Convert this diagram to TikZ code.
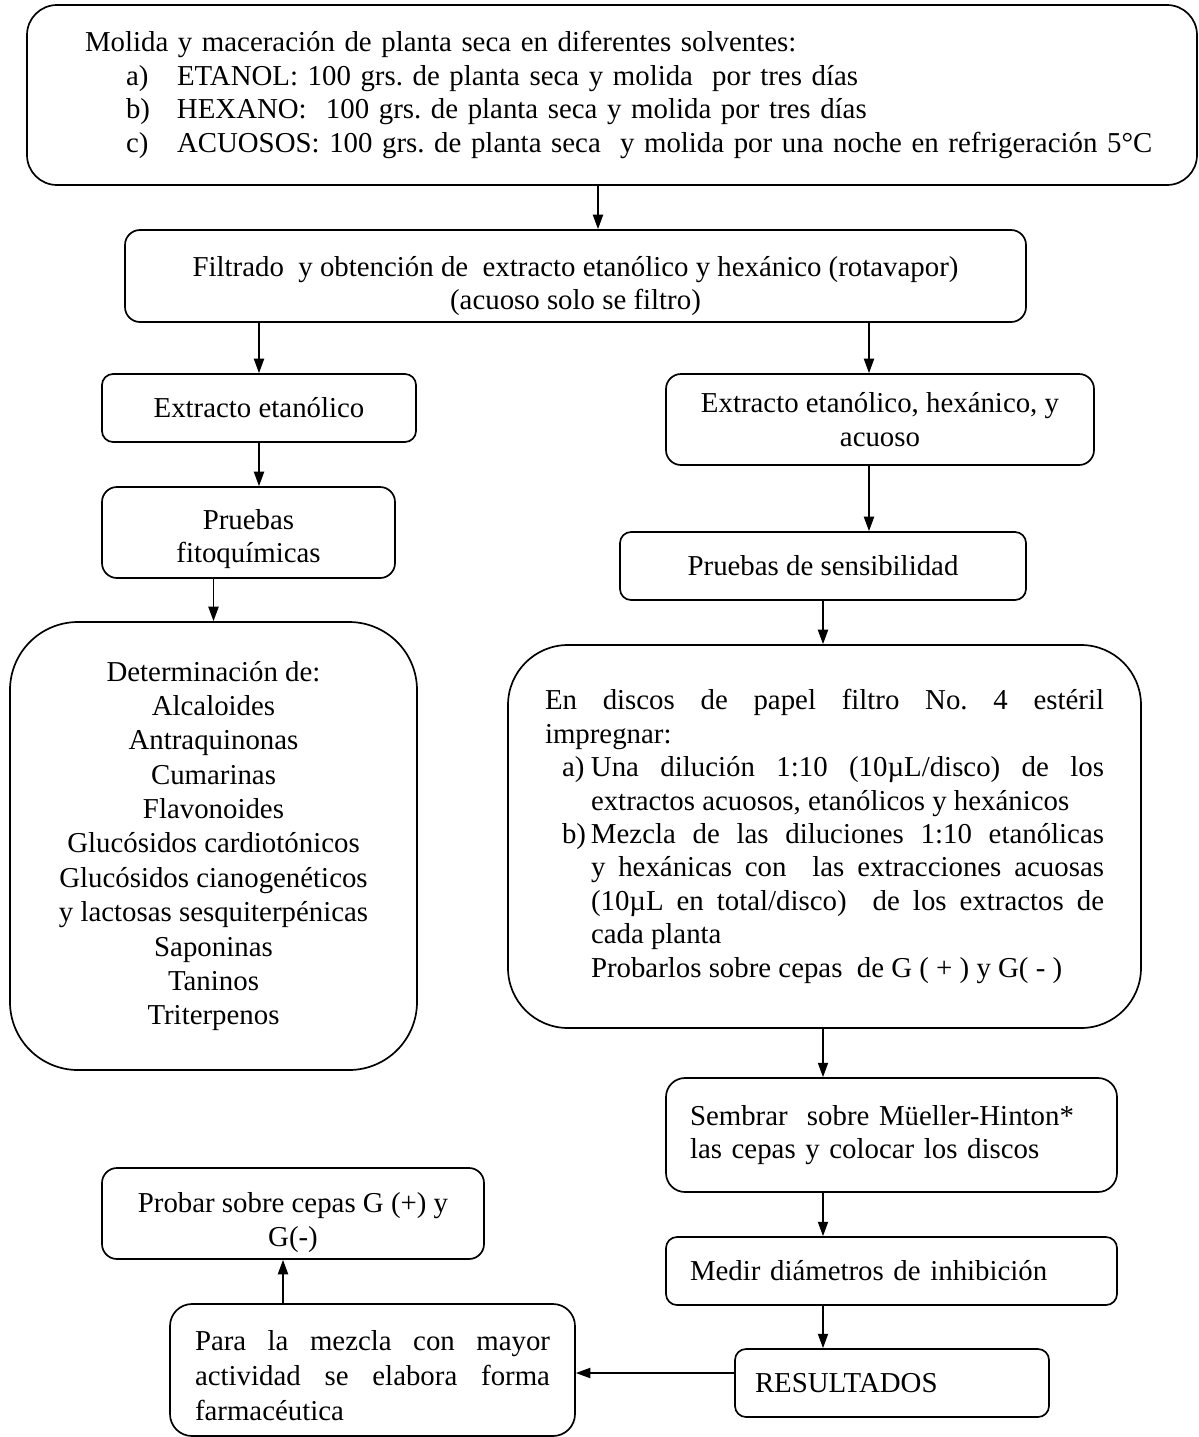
\documentclass[tikz,border=0pt]{standalone}
\usepackage{fontspec}
\setmainfont{Liberation Serif}
\usetikzlibrary{positioning}
\usetikzlibrary{arrows.meta,calc}
\newlength\px
\setlength\px{0.416pt}
\tolerance=9000
\hyphenpenalty=10000
\frenchspacing

\begin{document}
\begin{tikzpicture}[
    x=\px, y=-\px,
    every node/.style={
        inner sep=0pt,
        font=\fontsize{12}{13.9}\selectfont,
    },
    procbox/.style n args={3}{
        draw,rectangle,
        line width=0.7pt,
        rounded corners=#3\px,
        minimum width=#1\px,
        minimum height=#2\px,
    },
    link/.style={
        line width=0.7pt,
        -{Triangle[length=6pt,width=4.2pt]},
    },
]
    \useasboundingbox (0,0) rectangle (1198,1437);

    % ~~~ top of the flow ~~~~~~~~~~~~~~~~~~~~~~~~~~~~~~~~~~~~~~~~~~
    \node[procbox={1170}{180}{30},text width=1100\px,align=left] (mol) at (612,95) {%
        \hspace*{23\px}Molida y maceración de planta seca en diferentes solventes:\\
        \hspace*{64\px}\makebox[51\px][l]{a)}ETANOL: 100 grs. de planta seca y molida\ \ por tres días\\
        \hspace*{64\px}\makebox[51\px][l]{b)}HEXANO:\ \ 100 grs. de planta seca y molida por tres días\\
        \hspace*{64\px}\makebox[51\px][l]{c)}ACUOSOS: 100 grs. de planta seca\ \ y molida por una noche en refrigeración 5°C};
    \node[procbox={901}{92}{15},align=center,text height=30.7pt] (fil) at (575.5,276)
        {Filtrado\ \ y obtención de\ \ extracto etanólico y hexánico (rotavapor)\\(acuoso solo se filtro)};

    % ~~~ left column ~~~~~~~~~~~~~~~~~~~~~~~~~~~~~~~~~~~~~~~~~~~~~~~
    \node[procbox={314}{68}{11},align=center] (ext) at (259,408) {Extracto etanólico};
    \node[procbox={293}{91}{15},align=center,text height=27.9pt] (fito) at (248.5,532.5) {Pruebas\\fitoquímicas};
    \node[procbox={407}{448}{68},align=center,font=\fontsize{12}{14.3}\selectfont] (det) at (213.5,846) {%
        Determinación de:\\Alcaloides\\Antraquinonas\\Cumarinas\\Flavonoides\\
        Glucósidos cardiotónicos\\Glucósidos cianogenéticos\\y lactosas sesquiterpénicas\\
        Saponinas\\Taninos\\Triterpenos};

    % ~~~ right column ~~~~~~~~~~~~~~~~~~~~~~~~~~~~~~~~~~~~~~~~~~~~~~
    \node[procbox={428}{91}{15},align=center] (extall) at (880,419.5) {Extracto etanólico, hexánico, y\\acuoso};
    \node[procbox={406}{68}{11},align=center] (sens) at (823,566) {Pruebas de sensibilidad};
    \node[procbox={633}{383}{60},text width=559\px,align=justify] (disc) at (824.5,836.5) {%
        En discos de papel filtro No. 4 estéril\linebreak impregnar:\par
        \hangindent=46\px\hangafter=1
        \hspace*{17\px}\makebox[29\px][l]{a)}Una dilución 1:10 (10µL/disco) de los extractos acuosos, etanólicos y hexánicos\par
        \hangindent=46\px\hangafter=1
        \hspace*{17\px}\makebox[29\px][l]{b)}Mezcla de las diluciones 1:10 etanólicas y hexánicas con\ \ las extracciones acuosas (10µL en total/disco)\ \ de los extractos de cada planta\par
        \hspace*{46\px}Probarlos sobre cepas\ \ de G ( + ) y G( - )};
    \node[procbox={451}{114}{19},text width=403\px,align=left] (siem) at (891.5,1135)
        {Sembrar\ \ sobre Müeller-Hinton*\\las cepas y colocar los discos};
    \node[procbox={451}{68}{11},text width=403\px,align=left] (medir) at (891.5,1271) {Medir diámetros de inhibición};
    \node[procbox={314}{68}{11},text width=274\px,align=left] (res) at (892,1383) {RESULTADOS};

    % ~~~ back to the left ~~~~~~~~~~~~~~~~~~~~~~~~~~~~~~~~~~~~~~~~~~
    \node[procbox={405}{132}{22},text width=355\px,align=justify,text height=13.2pt,
        font=\fontsize{12}{14.6}\selectfont] (para) at (372.5,1370)
        {Para la mezcla con mayor actividad se elabora forma farmacéutica};
    \node[procbox={382}{91}{15},align=center,text height=29.7pt] (prob) at (293,1213.5) {Probar sobre cepas G (+) y\\G(-)};

    % ~~~ connectors ~~~~~~~~~~~~~~~~~~~~~~~~~~~~~~~~~~~~~~~~~~~~~~~~
    \coordinate (cm) at (598,0);
    \coordinate (cr) at (869,0);
    \coordinate (cl) at (283,0);
    \coordinate (ch) at (0,1373);
    \draw[link] (mol.south -| cm) -- (fil.north -| cm);
    \draw[link] (fil.south -| ext.north) -- (ext.north);
    \draw[link] (fil.south -| cr) -- (extall.north -| cr);
    \draw[link] (ext.south) -- (ext.south |- fito.north);
    \draw[link] (extall.south -| cr) -- (sens.north -| cr);
    \draw[link] (fito.south -| det.north) -- (det.north);
    \draw[link] (sens.south) -- (sens.south |- disc.north);
    \draw[link] (disc.south -| sens.south) -- (siem.north -| sens.south);
    \draw[link] (siem.south -| sens.south) -- (medir.north -| sens.south);
    \draw[link] (medir.south -| sens.south) -- (res.north -| sens.south);
    \draw[link] (res.west |- ch) -- (para.east |- ch);
    \draw[link] (para.north -| cl) -- (prob.south -| cl);
\end{tikzpicture}
\end{document}
